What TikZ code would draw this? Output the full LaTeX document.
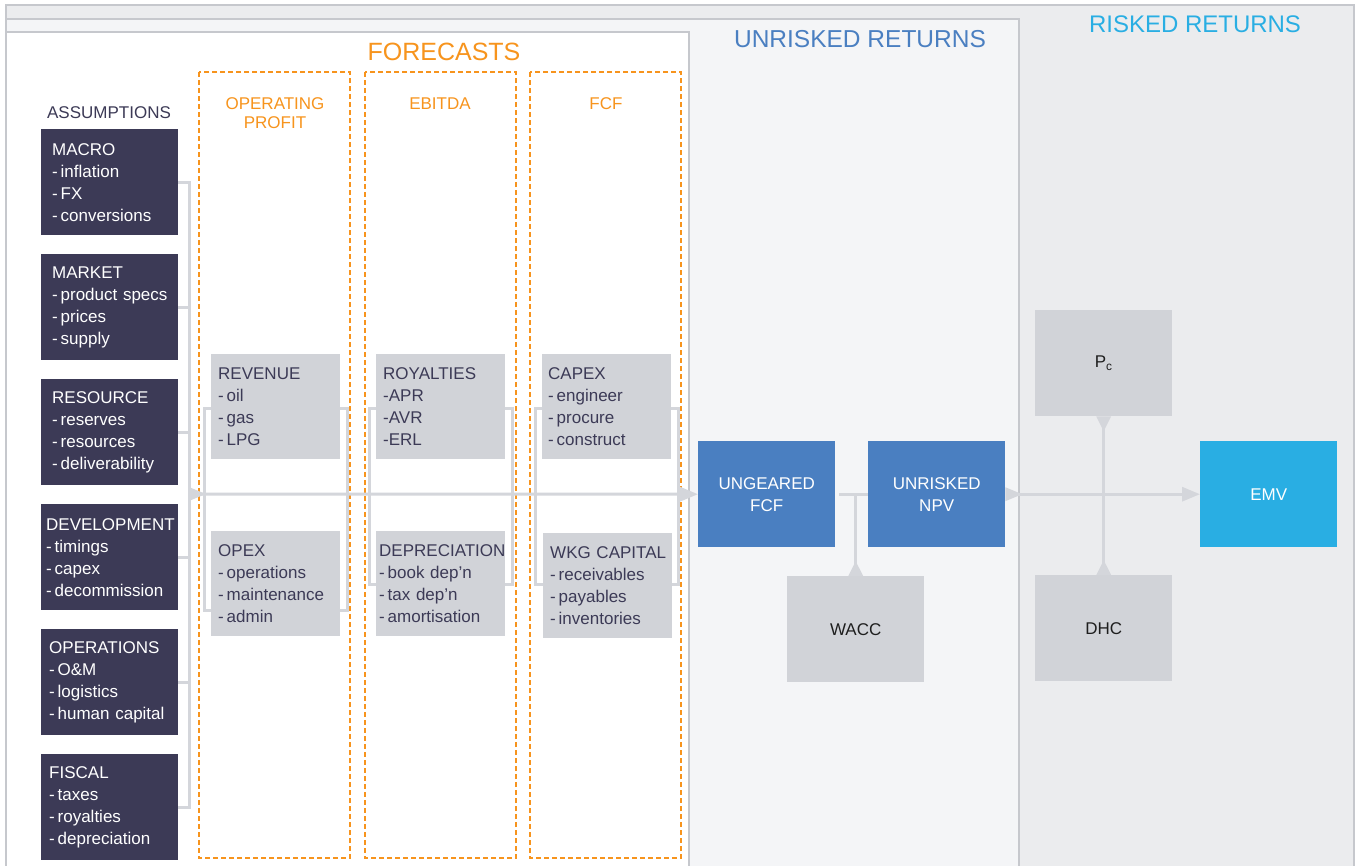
\documentclass[tikz,border=0pt]{standalone}
\usepackage{fontspec}
\setmainfont{Liberation Sans}
\usetikzlibrary{arrows.meta,positioning}
\definecolor{slate}{HTML}{3C3A56}
\definecolor{mist}{HTML}{D1D3D8}
\definecolor{wire}{HTML}{D4D6DB}
\definecolor{amber}{HTML}{F7941D}
\definecolor{steel}{HTML}{4A7FC1}
\definecolor{sky}{HTML}{29AEE3}
\definecolor{paleA}{HTML}{EBECEE}
\definecolor{paleB}{HTML}{F4F5F7}
\definecolor{rim}{HTML}{C6C8CD}
\definecolor{coal}{HTML}{1E1E1E}

\begin{document}
\begin{tikzpicture}[x=1pt,y=-1pt,
  txt/.style={font=\fontsize{17}{22}\selectfont},
  card/.style={txt,anchor=north west,minimum width=137pt,minimum height=106pt,inner ysep=0pt,align=left,
    execute at begin node={\hyphenpenalty=10000\exhyphenpenalty=10000}},
  assume/.style={card,fill=slate,text=white},
  piece/.style={card,minimum width=129pt,minimum height=105pt,fill=mist,text=slate},
  result/.style={txt,anchor=north west,minimum width=137pt,minimum height=106pt,align=center,inner sep=0pt},
  link/.style={wire,line width=3pt},
  feed/.style={link,{Triangle[reversed,length=17pt,width=13pt]}-{Triangle[length=18pt,width=14pt]}},
  stub/.style={link,{Triangle[reversed,length=15pt,width=14pt]}-}]
\clip (0,0) rectangle (1356,865);
\draw[rim,line width=1.5pt,fill=paleA] (6,5) rectangle (1354,880);
\draw[rim,line width=1.5pt,fill=paleB] (6,19) rectangle (1019,880);
\draw[rim,line width=1.5pt,fill=white] (6,32) rectangle (689,880);
\foreach \x in {199,365,530}
  \draw[amber,line width=1.2pt,dash pattern=on 5pt off 3pt] (\x,72) rectangle (\x+151,858);

\node[font=\fontsize{25}{25}\selectfont,text=amber,anchor=base] (forecasts) at (444,60) {FORECASTS};
\node[font=\fontsize{24.5}{25}\selectfont,text=steel,anchor=base] (unrisked) at (860,47) {UNRISKED RETURNS};
\node[font=\fontsize{24}{25}\selectfont,text=sky,anchor=base] (risked) at (1195,32) {RISKED RETURNS};
\node[txt,text=slate,anchor=base] (assumptions) at (109,118) {ASSUMPTIONS};
\foreach \nm/\x/\y/\body in {opprofit/275/128/{OPERATING\\PROFIT},ebitda/440/109/EBITDA,fcf/606/109/FCF}
  \node[font=\fontsize{17}{19}\selectfont,text=amber,align=center,anchor=base] (\nm) at (\x,\y) {\body};

\foreach \nm/\y/\ix/\body in {
  macro/129/11/{MACRO\\-\,inflation\\-\,FX\\-\,conversions},
  market/254/11/{MARKET\\-\,product~specs\\-\,prices\\-\,supply},
  resource/379/11/{RESOURCE\\-\,reserves\\-\,resources\\-\,deliverability},
  development/504/5/{DEVELOPMENT\\-\,timings\\-\,capex\\-\,decommission},
  operations/629/8/{OPERATIONS\\-\,O\&M\\-\,logistics\\-\,human~capital},
  fiscal/754/8/{FISCAL\\-\,taxes\\-\,royalties\\-\,depreciation}}{
  \pgfmathsetmacro\tw{137-2*\ix}
  \node[assume,inner xsep=\ix pt,text width=\tw pt] (\nm) at (41,\y) {\body};
}

\foreach \nm/\x/\y/\ix/\body in {
  revenue/211/354/7/{REVENUE\\-\,oil\\-\,gas\\-\,LPG},
  opex/211/531/7/{OPEX\\-\,operations\\-\,maintenance\\-\,admin},
  royalties/376/354/7/{ROYALTIES\\-APR\\-AVR\\-ERL},
  depreciation/376/531/3/{DEPRECIATION\\-\,book~dep'n\\-\,tax~dep'n\\-\,amortisation},
  capex/542/354/6/{CAPEX\\-\,engineer\\-\,procure\\-\,construct},
  wkg/543/533/7/{WKG~CAPITAL\\-\,receivables\\-\,payables\\-\,inventories}}{
  \pgfmathsetmacro\tw{129-2*\ix}
  \node[piece,inner xsep=\ix pt,text width=\tw pt] (\nm) at (\x,\y) {\body};
}

\node[result,fill=steel,text=white] (ungeared) at (698,441) {UNGEARED\\FCF};
\node[result,fill=steel,text=white] (npv) at (868,441) {UNRISKED\\NPV};
\node[result,fill=sky,text=white] (emv) at (1200,441) {EMV};
\node[result,fill=mist,text=coal] (wacc) at (787,576) {WACC};
\node[result,fill=mist,text=coal] (pc) at (1035,310) {P\textsubscript{c}};
\node[result,fill=mist,text=coal] (dhc) at (1035,575) {DHC};

\coordinate (bus) at (189,494);
\draw[link] (macro.east) -| (bus) |- (fiscal.east);
\foreach \nm in {market,resource,development,operations}
  \draw[link] (\nm.east) -- (\nm.east -| bus);
\foreach \a/\b/\dy in {revenue/opex/-27,royalties/depreciation/-1,capex/wkg/1}{
  \draw[link] ([yshift=-1.5pt]\a.west) -- ++(-7,0) |- ([yshift=\dy pt]\b.west);
  \draw[link] ([yshift=-1.5pt]\a.east) -- ++(7,0) |- ([yshift=\dy pt]\b.east);
}
\draw[feed] (bus) -- (ungeared.west);
\draw[link,shorten <=4pt] (ungeared) -- (npv);
\draw[stub] (wacc.north) -- (wacc.north |- npv.west);
\draw[feed] (npv) -- (emv);
\draw[link,{Triangle[reversed,length=15pt,width=14pt]}-{Triangle[reversed,length=15pt,width=14pt]}] (pc.south) -- (dhc.north);
\end{tikzpicture}
\end{document}
